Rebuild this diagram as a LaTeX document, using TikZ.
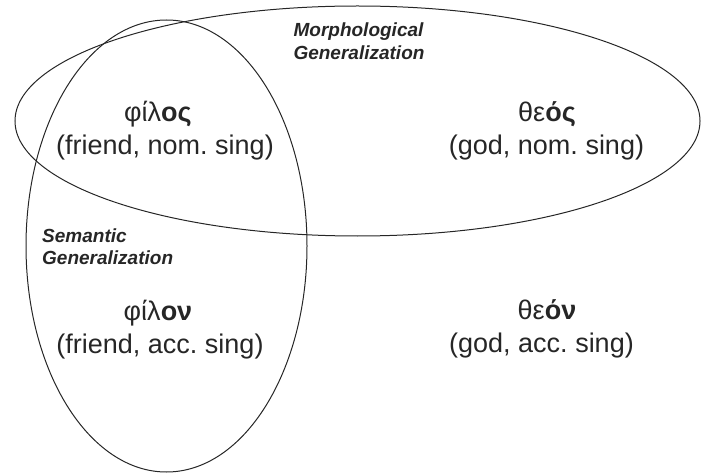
\documentclass[tikz,border=0pt]{standalone}
\usepackage{fontspec}
\setmainfont{Liberation Sans}
\usetikzlibrary{shapes.geometric}
\frenchspacing
\tikzset{
  setellipse/.style={draw=black!85, line width=1pt, ellipse, inner sep=0pt},
  wordtext/.style={anchor=base, inner sep=0pt, font=\fontsize{27}{32}\selectfont, text=black!85},
  grouplabel/.style={inner sep=0pt, font=\fontsize{19}{23}\selectfont\bfseries\itshape, text=black!85},
}
\begin{document}
\begin{tikzpicture}[x=1pt,y=-1pt]
\useasboundingbox (0,0) rectangle (701,473);
\node[setellipse, minimum width=685pt, minimum height=230pt] (morph) at (357.5,121) {};
\node[setellipse, minimum width=281pt, minimum height=452pt] (sem) at (166.5,246) {};
% labels
\node[grouplabel, anchor=base] (mlab1) at (358.5,37) {Morphological};
\node[grouplabel, anchor=base] (mlab2) at (359,60) {Generalization};
\node[grouplabel, anchor=base west] (slab1) at (42,242) {Semantic};
\node[grouplabel, anchor=base west] (slab2) at (42,264) {Generalization};
% words
\node[wordtext] (w1) at (158,122) {φίλ\textbf{ος}};
\node[wordtext] (g1) at (165,155) {(friend, nom. sing)};
\node[wordtext] (w2) at (547,122) {θε\textbf{ός}};
\node[wordtext] (g2) at (546.5,155) {(god, nom. sing)};
\node[wordtext] (w3) at (158,320) {φίλ\textbf{ον}};
\node[wordtext] (g3) at (160,353) {(friend, acc. sing)};
\node[wordtext] (w4) at (547,319) {θε\textbf{όν}};
\node[wordtext] (g4) at (541.5,352) {(god, acc. sing)};
\end{tikzpicture}
\end{document}
